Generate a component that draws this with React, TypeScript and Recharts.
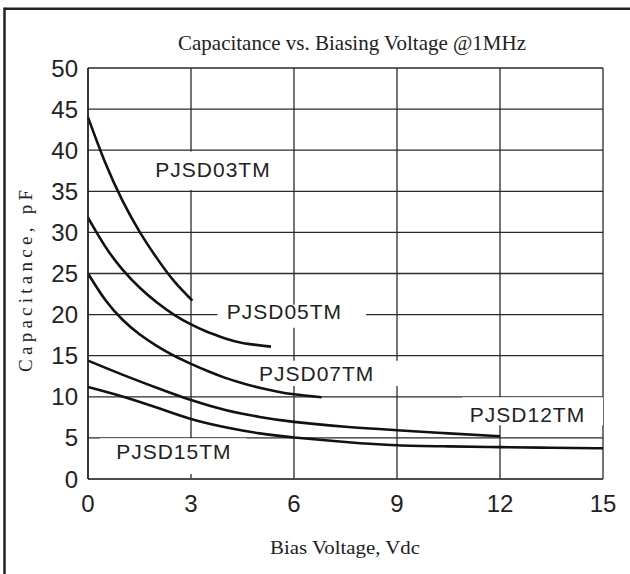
import { LineChart, Line, XAxis, YAxis, CartesianGrid, ReferenceArea, ReferenceDot } from "recharts";

// bias voltage (V) / capacitance (pF)
const pjsd03V = [0, 0.5, 1, 1.5, 2, 2.5, 3.04];
const pjsd03C = [44, 38.5, 33.9, 30.1, 26.9, 24.1, 21.7];

const pjsd05V = [0, 0.5, 1, 1.5, 2, 2.5, 3, 3.5, 4, 4.5, 5.33];
const pjsd05C = [31.8, 28.3, 25.5, 23.3, 21.5, 20.0, 18.8, 17.85, 17.1, 16.55, 16.1];

const pjsd07V = [0, 0.5, 1, 1.5, 2, 2.5, 3, 3.5, 4, 4.5, 5, 5.5, 6, 6.8];
const pjsd07C = [25.0, 21.8, 19.4, 17.6, 16.2, 15.0, 14.0, 13.1, 12.3, 11.65, 11.1, 10.65, 10.3, 9.95];

const pjsd12V = [0, 1, 2, 3, 4, 5, 6, 7.5, 9, 10.5, 12];
const pjsd12C = [14.4, 12.7, 11.1, 9.6, 8.4, 7.55, 6.95, 6.35, 5.93, 5.55, 5.2];

const pjsd15V = [0, 1, 2, 3, 4, 5, 6, 7.5, 9, 10.5, 12, 13.5, 15];
const pjsd15C = [11.2, 10.05, 8.7, 7.3, 6.3, 5.55, 5.05, 4.5, 4.1, 3.97, 3.88, 3.81, 3.74];

const xTicks = [0, 3, 6, 9, 12, 15];
const yTicks = [0, 5, 10, 15, 20, 25, 30, 35, 40, 45, 50];

const seriesNames = ["PJSD03TM", "PJSD05TM", "PJSD07TM", "PJSD12TM", "PJSD15TM"];
// label centre (V, pF)
const labelV = [3.64, 5.72, 6.66, 12.8, 2.5];
const labelC = [37.6, 20.4, 12.85, 7.9, 3.33];
// white box behind each label (V1, V2, C1, C2)
const boxV1 = [1.8, 3.77, 4.85, 10.9, 0.35];
const boxV2 = [5.5, 8.1, 9.1, 15, 4.62];
const boxC1 = [35.15, 18.4, 11.3, 6.55, 0.6];
const boxC2 = [39.85, 21.2, 14.4, 9.95, 4.97];

const toPoints = (v: number[], c: number[]) => v.map((x, i) => ({ v: x, c: c[i] }));

const series = [
    toPoints(pjsd03V, pjsd03C),
    toPoints(pjsd05V, pjsd05C),
    toPoints(pjsd07V, pjsd07C),
    toPoints(pjsd12V, pjsd12C),
    toPoints(pjsd15V, pjsd15C)
];

const sans = "'Liberation Sans', Arial, sans-serif";
const serif = "'Liberation Serif', 'Times New Roman', serif";

export default function App() {

    return (

        <div style={{ position: "absolute", left: 0, top: 0, width: 630, height: 574, background: "#fff" }}>

            <LineChart
                width={630}
                height={574}
                margin={{ top: 68, right: 27, bottom: 0, left: 0 }}
            >

                <CartesianGrid stroke="#2a2a2a" strokeWidth={1.3} />

                <XAxis
                    type="number"
                    dataKey="v"
                    domain={[0, 15]}
                    ticks={xTicks}
                    height={95}
                    tickLine={false}
                    tickSize={0}
                    tickMargin={16}
                    axisLine={{ stroke: "#444", strokeWidth: 1.5 }}
                    tick={{ fill: "#222", fontSize: 24, fontFamily: sans }}
                />

                <YAxis
                    type="number"
                    dataKey="c"
                    domain={[0, 50]}
                    ticks={yTicks}
                    width={88}
                    tickLine={false}
                    tickSize={0}
                    tickMargin={10}
                    axisLine={{ stroke: "#222", strokeWidth: 1.5 }}
                    tick={{ fill: "#222", fontSize: 24, fontFamily: sans }}
                />

                {seriesNames.map((name, i) => (
                    <ReferenceArea
                        key={"box" + name}
                        x1={boxV1[i]}
                        x2={boxV2[i]}
                        y1={boxC1[i]}
                        y2={boxC2[i]}
                        fill="#fff"
                        fillOpacity={1}
                        stroke="none"
                    />
                ))}

                {series.map((data, i) => (
                    <Line
                        key={seriesNames[i]}
                        data={data}
                        dataKey="c"
                        type="natural"
                        stroke="#111"
                        strokeWidth={2.6}
                        dot={false}
                        activeDot={false}
                        isAnimationActive={false}
                    />
                ))}

                {seriesNames.map((name, i) => (
                    <ReferenceDot
                        key={"lbl" + name}
                        x={labelV[i]}
                        y={labelC[i]}
                        r={0}
                        fill="none"
                        stroke="none"
                        label={{
                            value: name,
                            position: "center",
                            fill: "#222",
                            fontSize: 21,
                            fontFamily: sans,
                            letterSpacing: 1
                        }}
                    />
                ))}

            </LineChart>

            <svg
                width={630}
                height={574}
                style={{ position: "absolute", left: 0, top: 0, pointerEvents: "none" }}
            >

                <line x1={4.5} y1={8.7} x2={630} y2={8.7} stroke="#222" strokeWidth={2.5} />
                <line x1={4.5} y1={7.5} x2={4.5} y2={574} stroke="#222" strokeWidth={2.5} />

                <text x={352} y={50} textAnchor="middle" fontFamily={serif} fontSize={21} fill="#222" textLength={348} lengthAdjust="spacingAndGlyphs">
                    Capacitance vs. Biasing Voltage @1MHz
                </text>

                <text
                    x={0}
                    y={0}
                    transform="translate(32 281) rotate(-90)"
                    textAnchor="middle"
                    fontFamily={serif}
                    fontSize={19}
                    fill="#222"
                    textLength={182}
                    lengthAdjust="spacing"
                >
                    Capacitance, pF
                </text>

                <text x={345} y={554} textAnchor="middle" fontFamily={serif} fontSize={19} fill="#222" textLength={150} lengthAdjust="spacingAndGlyphs">
                    Bias Voltage, Vdc
                </text>

            </svg>

        </div>

    );

}
